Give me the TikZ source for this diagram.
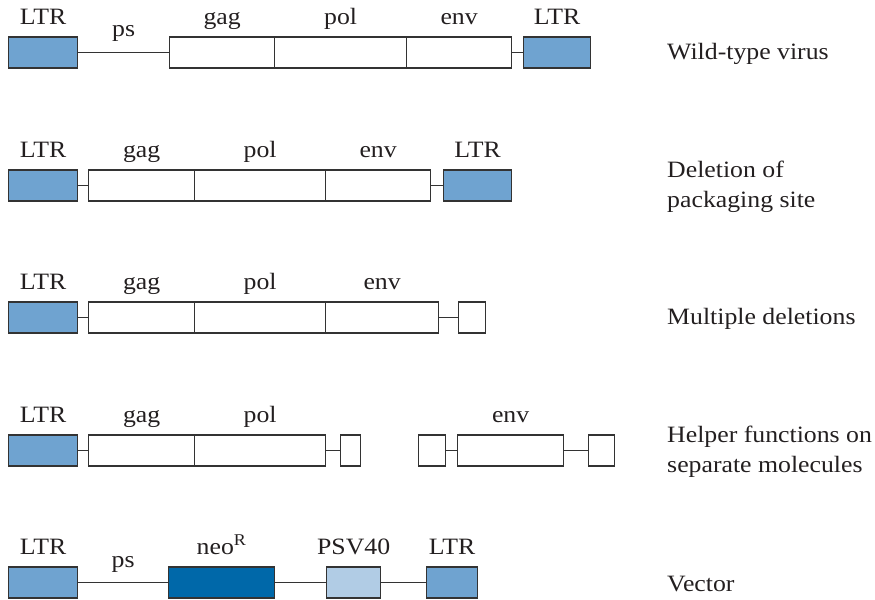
\documentclass[tikz,border=0pt]{standalone}
\usepackage{fontspec}
\setmainfont[FakeStretch=1.1]{Liberation Serif}
\usepackage{xcolor}
\usetikzlibrary{positioning}

\definecolor{ltrblue}{RGB}{111,163,208}
\definecolor{neoblue}{RGB}{0,104,169}
\definecolor{psvblue}{RGB}{177,204,229}
\definecolor{edgegray}{RGB}{51,51,51}
\definecolor{inkgray}{RGB}{35,31,32}

\tikzset{
    seg/.style={draw=edgegray, line width=1.1pt, anchor=west, inner sep=0pt, minimum height=0.93cm},
    ltrbox/.style={seg, fill=ltrblue, minimum width=2.07cm},
    genebox/.style={seg, fill=white},
    neobox/.style={seg, fill=neoblue},
    psvbox/.style={seg, fill=psvblue},
    link/.style={draw=edgegray, line width=1.1pt},
    lbl/.style={text=inkgray, font=\fontsize{20}{24}\selectfont, inner sep=0pt, text depth=0pt},
    rowname/.style={text=inkgray, font=\fontsize{20}{26}\selectfont, anchor=west, align=left, inner sep=0pt}
}

\begin{document}
\begin{tikzpicture}[x=0.03cm, y=-0.03cm]
    \useasboundingbox (0,0) rectangle (875,600);

    % Wild-type virus
    \node[ltrbox] (ltrA1) at (8,52.5) {};
    \node[genebox, minimum width=3.15cm] (gag1) at (169,52.5) {};
    \node[genebox, minimum width=3.96cm] (pol1) at (274,52.5) {};
    \node[genebox, minimum width=3.15cm] (env1) at (406,52.5) {};
    \node[ltrbox, minimum width=2.01cm] (ltrB1) at (523,52.5) {};
    \draw[link] (ltrA1) -- (gag1) node[lbl, midway, above=0.45cm] {ps};
    \draw[link] (env1) -- (ltrB1);
    \node[lbl, above=0.36cm of ltrA1] {LTR};
    \node[lbl, above=0.36cm of gag1] {gag};
    \node[lbl, above=0.36cm of pol1] {pol};
    \node[lbl, above=0.36cm of env1] {env};
    \node[lbl, above=0.36cm of ltrB1] {LTR};
    \node[rowname] (name1) at (667,53.5) {Wild-type virus};

    % Deletion of packaging site
    \node[ltrbox] (ltrA2) at (8,185.5) {};
    \node[genebox, minimum width=3.18cm] (gag2) at (88,185.5) {};
    \node[genebox, minimum width=3.93cm] (pol2) at (194,185.5) {};
    \node[genebox, minimum width=3.15cm] (env2) at (325,185.5) {};
    \node[ltrbox, minimum width=2.04cm] (ltrB2) at (443,185.5) {};
    \draw[link] (ltrA2) -- (gag2);
    \draw[link] (env2) -- (ltrB2);
    \node[lbl, above=0.36cm of ltrA2] {LTR};
    \node[lbl, above=0.36cm of gag2] {gag};
    \node[lbl, above=0.36cm of pol2] {pol};
    \node[lbl, above=0.36cm of env2] {env};
    \node[lbl, above=0.36cm of ltrB2] {LTR};
    \node[rowname] (name2) at (667,187) {Deletion of\\packaging site};

    % Multiple deletions
    \node[ltrbox] (ltrA3) at (8,317.5) {};
    \node[genebox, minimum width=3.18cm] (gag3) at (88,317.5) {};
    \node[genebox, minimum width=3.93cm] (pol3) at (194,317.5) {};
    \node[genebox, minimum width=3.39cm] (env3) at (325,317.5) {};
    \node[genebox, minimum width=0.81cm] (end3) at (458,317.5) {};
    \draw[link] (ltrA3) -- (gag3);
    \draw[link] (env3) -- (end3);
    \node[lbl, above=0.36cm of ltrA3] {LTR};
    \node[lbl, above=0.36cm of gag3] {gag};
    \node[lbl, above=0.36cm of pol3] {pol};
    \node[lbl, above=0.36cm of env3] {env};
    \node[rowname] (name3) at (667,319) {Multiple deletions};

    % Helper functions on separate molecules
    \node[ltrbox] (ltrA4) at (8,450.5) {};
    \node[genebox, minimum width=3.18cm] (gag4) at (88,450.5) {};
    \node[genebox, minimum width=3.93cm] (pol4) at (194,450.5) {};
    \node[genebox, minimum width=0.60cm] (stubA4) at (340,450.5) {};
    \node[genebox, minimum width=0.81cm] (stubB4) at (418,450.5) {};
    \node[genebox, minimum width=3.18cm] (env4) at (457,450.5) {};
    \node[genebox, minimum width=0.78cm] (stubC4) at (588,450.5) {};
    \draw[link] (ltrA4) -- (gag4);
    \draw[link] (pol4) -- (stubA4);
    \draw[link] (stubB4) -- (env4);
    \draw[link] (env4) -- (stubC4);
    \node[lbl, above=0.36cm of ltrA4] {LTR};
    \node[lbl, above=0.36cm of gag4] {gag};
    \node[lbl, above=0.36cm of pol4] {pol};
    \node[lbl, above=0.36cm of env4] {env};
    \node[rowname] (name4) at (667,452) {Helper functions on\\separate molecules};

    % Vector
    \node[ltrbox] (ltrA5) at (8,582.5) {};
    \node[neobox, minimum width=3.18cm] (neo5) at (168,582.5) {};
    \node[psvbox, minimum width=1.62cm] (psv5) at (326,582.5) {};
    \node[ltrbox, minimum width=1.53cm] (ltrB5) at (426,582.5) {};
    \draw[link] (ltrA5) -- (neo5) node[lbl, midway, above=0.43cm] {ps};
    \draw[link] (neo5) -- (psv5);
    \draw[link] (psv5) -- (ltrB5);
    \node[lbl, above=0.36cm of ltrA5] {LTR};
    \node[lbl, above=0.36cm of neo5] {neo\textsuperscript{R}};
    \node[lbl, above=0.36cm of psv5] {PSV40};
    \node[lbl, above=0.36cm of ltrB5] {LTR};
    \node[rowname] (name5) at (667,584) {Vector};
\end{tikzpicture}
\end{document}
